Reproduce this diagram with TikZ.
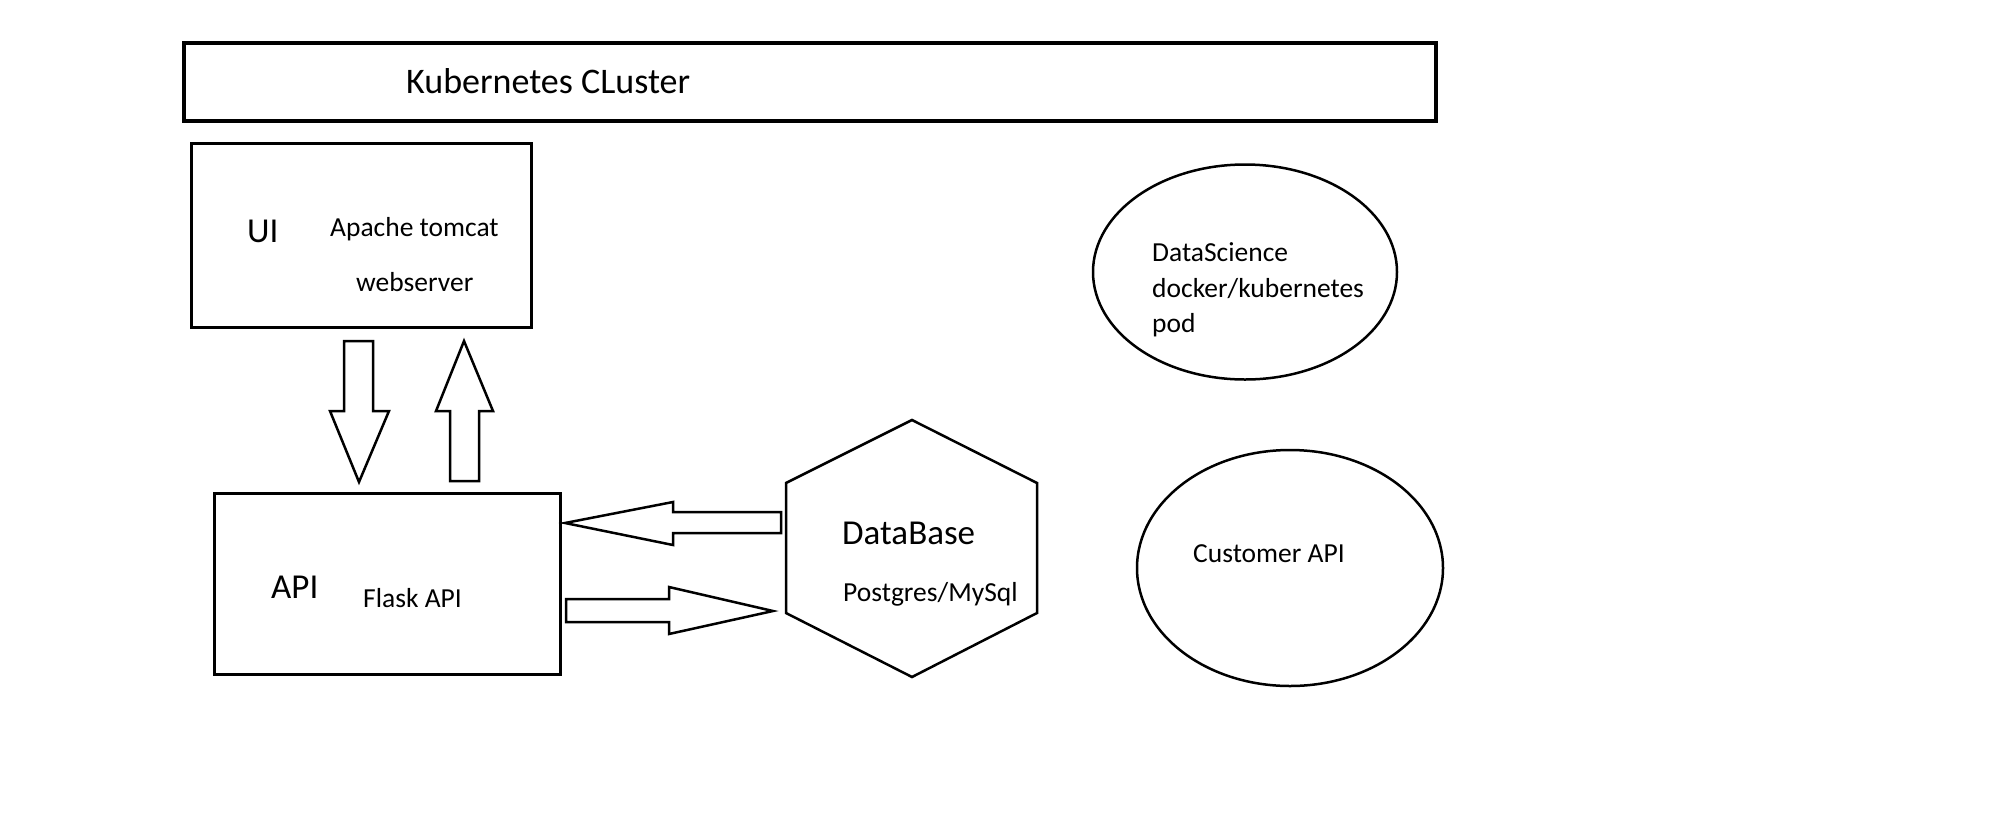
\documentclass[tikz,border=0pt]{standalone}
\usepackage{fontspec}
\setmainfont{Carlito}
\usepackage{tikz}
\usetikzlibrary{shapes.geometric}

\tikzset{
    bigtext/.style={anchor=base west, inner sep=0pt, font=\fontsize{35}{42}\selectfont},
    smalltext/.style={anchor=base west, inner sep=0pt, font=\fontsize{27.5}{34}\selectfont},
    blockarrow/.style={line width=2.5pt, line join=miter},
    pod/.style={draw, ellipse, line width=2.5pt, inner sep=0pt}
}

\begin{document}
\begin{tikzpicture}[x=1pt,y=-1pt]
        \useasboundingbox (0,0) rectangle (2011,812);

        % cluster header
        \node[draw, line width=3.5pt, minimum width=1252pt, minimum height=78pt, inner sep=0pt] (cluster) at (810,82) {};
        \node[bigtext, font=\fontsize{36}{43}\selectfont] (clustertext) at (406,93) {Kubernetes CLuster};

        % ui
        \node[draw, line width=3pt, minimum width=340pt, minimum height=184pt, inner sep=0pt] (ui) at (361,235) {};
        \node[bigtext] (uitext) at (247,242) {UI};
        \node[smalltext] (tomcat) at (330,236) {Apache tomcat};
        \node[smalltext] (webserver) at (356,291) {webserver};

        % api
        \node[draw, line width=3pt, minimum width=346pt, minimum height=181pt, inner sep=0pt] (api) at (387,583.5) {};
        \node[bigtext] (apitext) at (271,598) {API};
        \node[smalltext] (flask) at (363,607) {Flask API};

        % database
        \draw[line width=2.5pt] (912,420) -- (1037,483) -- (1037,613) -- (912,677)
            -- (786,613) -- (786,483) -- cycle;
        \coordinate (db) at (912,548);
        \node[bigtext] (dbtext) at (842,544) {DataBase};
        \node[smalltext] (postgres) at (843,601) {Postgres/MySql};

        % ellipses
        \node[pod, minimum width=304pt, minimum height=215pt] (ds) at (1245,272) {};
        \node[smalltext] (ds1) at (1152,261) {DataScience};
        \node[smalltext] (ds2) at (1152,297) {docker/kubernetes};
        \node[smalltext] (ds3) at (1152,332) {pod};

        \node[pod, minimum width=306pt, minimum height=236pt] (cust) at (1290,568) {};
        \node[smalltext] (custtext) at (1193,562) {Customer API};

        % arrows between ui and api
        \draw[blockarrow] (344,341) -- (373,341) -- (373,411) -- (389,411) -- (359,482)
            -- (330,411) -- (344,411) -- cycle;
        \draw[blockarrow] (464,341) -- (493,411) -- (479,411) -- (479,481) -- (450,481)
            -- (450,411) -- (436,411) -- cycle;

        % arrows between api and database
        \draw[blockarrow] (565,523) -- (673,502) -- (673,512) -- (781,512) -- (781,533)
            -- (673,533) -- (673,545) -- cycle;
        \draw[blockarrow] (566,599) -- (669,599) -- (669,587) -- (773,611) -- (669,634)
            -- (669,622) -- (566,622) -- cycle;
    \end{tikzpicture}
\end{document}
